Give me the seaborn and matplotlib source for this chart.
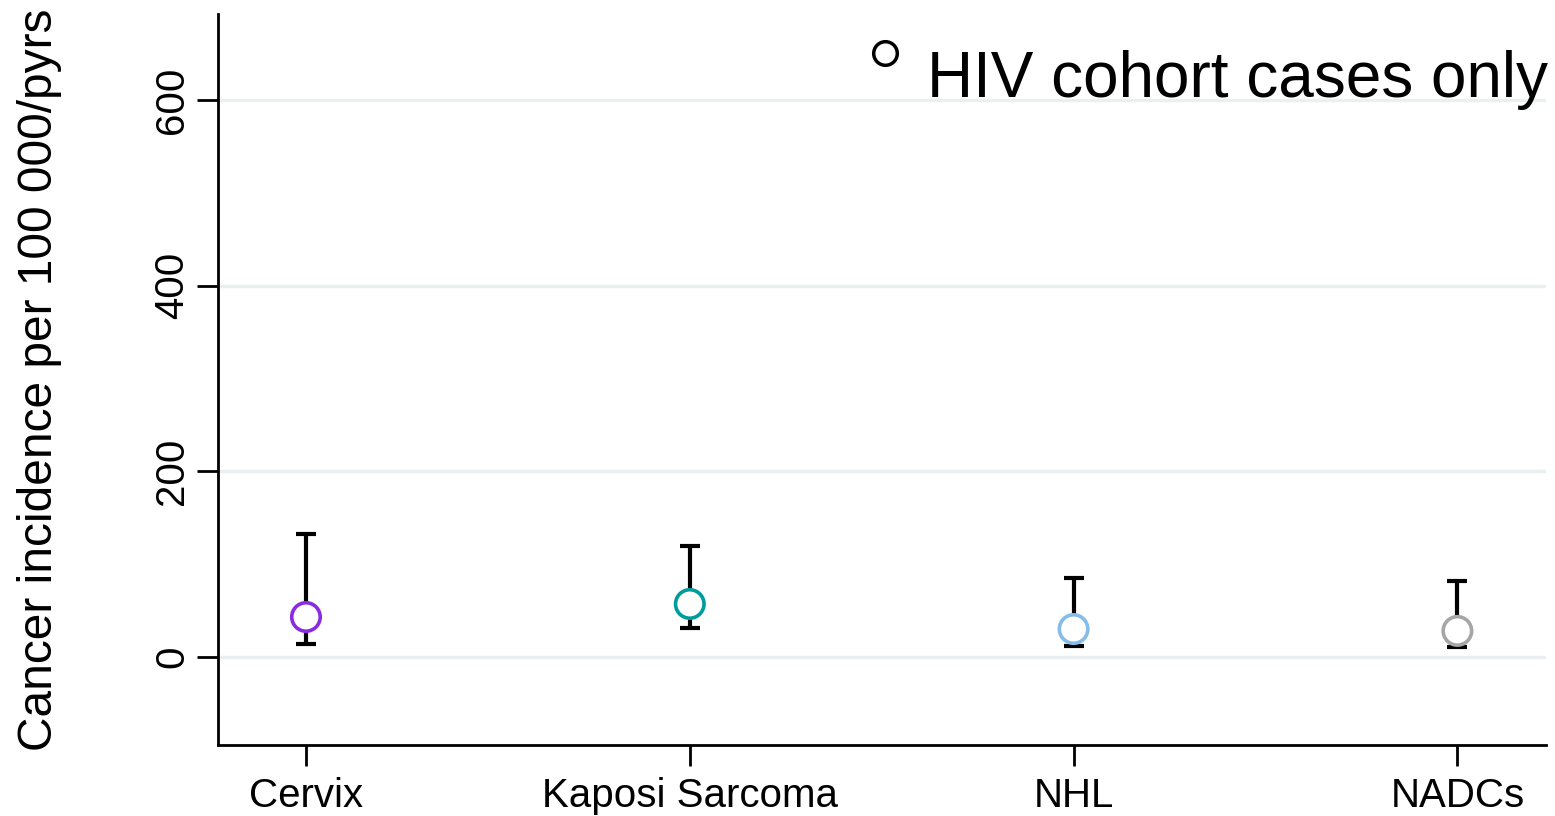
import matplotlib
matplotlib.use("Agg")
import matplotlib.pyplot as plt
import seaborn as sns
import pandas as pd

# values
cancers = ["Cervix", "Kaposi Sarcoma", "NHL", "NADCs"]
incidence = [43, 57, 30, 28]
ci_low = [14, 31, 12, 11]
ci_high = [132, 120, 85, 82]
colors = ["#8a2be2", "#009b9b", "#85bde8", "#a6a6a6"]

df = pd.DataFrame({"cancer": cancers, "pos": [1, 2, 3, 4],
                   "rate": incidence, "lo": ci_low, "hi": ci_high})

sns.set_style("white")
plt.rcParams["font.family"] = ["Liberation Sans", "DejaVu Sans"]
plt.rcParams["text.color"] = "black"
plt.rcParams["axes.labelcolor"] = "black"
plt.rcParams["xtick.color"] = "black"
plt.rcParams["ytick.color"] = "black"

fig = plt.figure(figsize=(15.55, 8.16), dpi=100)
ax = fig.add_axes([0.140, 0.087, 0.854, 0.896])

for y in [0, 200, 400, 600]:
    ax.axhline(y, color="#eaf0f2", lw=2.5, zorder=0)

ax.errorbar(df["pos"], df["rate"],
            yerr=[df["rate"] - df["lo"], df["hi"] - df["rate"]],
            fmt="none", ecolor="black", elinewidth=3, capsize=7, capthick=3, zorder=2)

sns.scatterplot(data=df, x="pos", y="rate", hue="cancer", palette=colors,
                s=420, linewidth=2.6, legend=False, ax=ax, zorder=3)
pts = ax.collections[-1]
pts.set_facecolor("white")
pts.set_edgecolor(colors)

ax.set_xlim(0.77, 4.23)
ax.set_ylim(-95, 693)
ax.set_xticks(df["pos"])
ax.set_xticklabels(cancers, fontsize=29)
ax.set_yticks([0, 200, 400, 600])
ax.set_yticklabels(["0", "200", "400", "600"], fontsize=29, rotation=90, va="center")
ax.tick_params(axis="both", direction="out", length=15, width=2, color="black",
               bottom=True, left=True)
ax.tick_params(axis="x", pad=8)
ax.tick_params(axis="y", pad=4)
ax.set_xlabel("")
ax.set_ylabel("Cancer incidence per 100 000/pyrs", fontsize=34.5, labelpad=66)

for side in ["top", "right"]:
    ax.spines[side].set_visible(False)
for side in ["left", "bottom"]:
    ax.spines[side].set_color("black")
    ax.spines[side].set_linewidth(2)

# legend key drawn like the reference: small circle raised beside the label
ax.plot([0.5026], [0.947], marker="o", linestyle="none", markersize=17,
        markerfacecolor="white", markeredgecolor="black", markeredgewidth=2.5,
        transform=ax.transAxes, clip_on=False)
ax.text(0.534, 0.886, "HIV cohort cases only", transform=ax.transAxes,
        fontsize=46, ha="left", va="baseline", color="black")

fig.savefig("out.png", dpi=100)
